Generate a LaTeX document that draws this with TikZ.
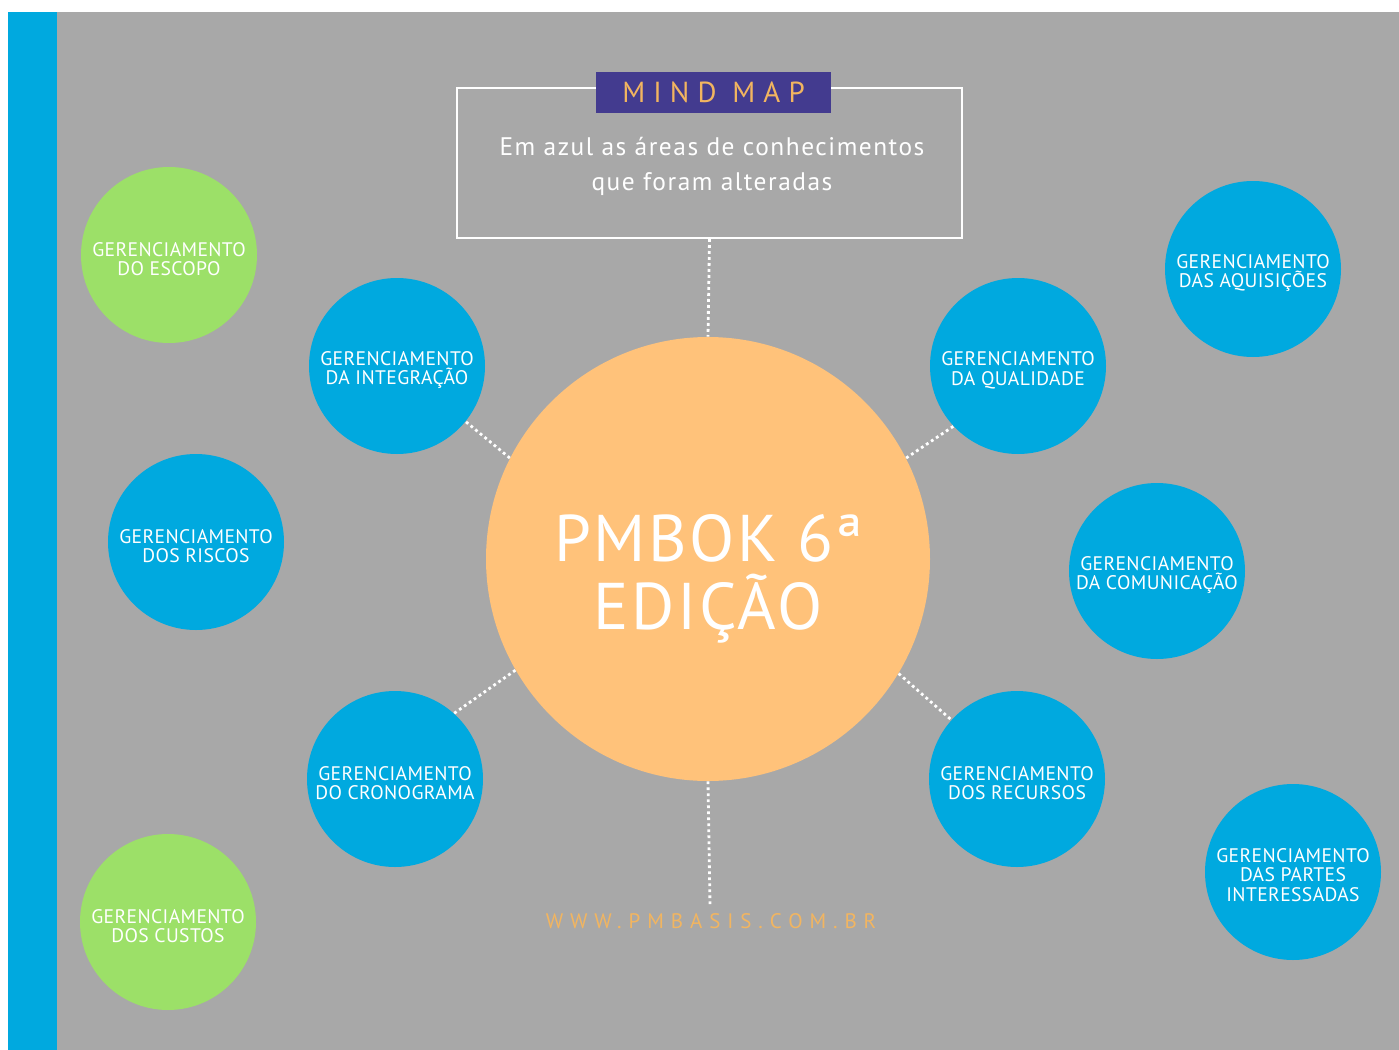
\documentclass[tikz,border=0pt]{standalone}
\usepackage{fontspec}
\setmainfont{PT Sans}
\definecolor{bggray}{HTML}{A8A8A8}
\definecolor{cblue}{HTML}{00A9DF}
\definecolor{cgreen}{HTML}{9CE068}
\definecolor{corange}{HTML}{FFC27A}
\definecolor{cindigo}{HTML}{433B8F}
\definecolor{ctxtorange}{HTML}{F2B560}
\newcommand\topstrut[1]{\rule{0pt}{#1}}
\begin{document}
\begin{tikzpicture}[x=0.5pt,y=-0.5pt,
  area/.style={circle, minimum size=88pt, inner sep=0pt, text=white, align=center,
    font=\fontsize{9.8}{9.8}\selectfont\addfontfeature{LetterSpace=2}},
  bluearea/.style={area, fill=cblue},
  greenarea/.style={area, fill=cgreen},
  dotline/.style={white, line width=1.4pt, dash pattern=on 1.4pt off 1.6pt}]
\useasboundingbox (0,0) rectangle (1399,1050);
\fill[white] (0,0) rectangle (1399,1050);
\fill[bggray] (57,12) rectangle (1399,1050);
\fill[cblue] (8,12) rectangle (57,1050);

% title box
\node[draw=white, line width=1pt, minimum width=252.5pt, minimum height=75pt, inner sep=0pt] (box) at (709.5,163) {};
\node[fill=cindigo, minimum width=117.5pt, minimum height=20.5pt, inner sep=0pt, text=ctxtorange,
  font=\fontsize{14.5}{14.5}\selectfont\addfontfeature{LetterSpace=28}] (mm) at (713.5,92.5) {MIND MAP};
\node[text=white, align=center, font=\fontsize{12.7}{17.5}\selectfont\addfontfeature{LetterSpace=6}] (sub) at (712,166)
  {Em azul as áreas de conhecimentos\\que foram alteradas};

% centre
\node[circle, fill=corange, minimum size=222pt, inner sep=0pt, text=white, align=center,
  font=\fontsize{33}{34}\selectfont\addfontfeature{LetterSpace=4}] (pmbok) at (708,559)
  {\topstrut{43pt}PMBOK 6ª\\EDIÇÃO};

% areas
\node[bluearea] (integ) at (397,366) {\topstrut{11pt}GERENCIAMENTO\\DA INTEGRAÇÃO};
\node[bluearea] (qual) at (1018,366) {\topstrut{11pt}GERENCIAMENTO\\DA QUALIDADE};
\node[bluearea] (crono) at (395,779) {\topstrut{11pt}GERENCIAMENTO\\DO CRONOGRAMA};
\node[bluearea] (recur) at (1017,779) {\topstrut{11pt}GERENCIAMENTO\\DOS RECURSOS};
\node[bluearea] (riscos) at (196,542) {\topstrut{11pt}GERENCIAMENTO\\DOS RISCOS};
\node[bluearea] (comun) at (1157,571) {\topstrut{11pt}GERENCIAMENTO\\DA COMUNICAÇÃO};
\node[bluearea] (aquis) at (1253,269) {\topstrut{11pt}GERENCIAMENTO\\DAS AQUISIÇÕES};
\node[bluearea] (partes) at (1293,872) {\topstrut{10pt}GERENCIAMENTO\\DAS PARTES\\INTERESSADAS};
\node[greenarea] (escopo) at (169,255) {\topstrut{11pt}GERENCIAMENTO\\DO ESCOPO};
\node[greenarea] (custos) at (168,922) {\topstrut{11pt}GERENCIAMENTO\\DOS CUSTOS};

% footer
\node[text=ctxtorange, font=\fontsize{10.5}{10.5}\selectfont\addfontfeature{LetterSpace=33}] (url) at (711,921) {WWW.PMBASIS.COM.BR};
\coordinate (foot) at (710,905);

% connectors
\draw[dotline] (box.south) -- (pmbok.north);
\draw[dotline] (pmbok.153) -- (integ.-39);
\draw[dotline] (pmbok.27) -- (qual.223);
\draw[dotline] (pmbok.210) -- (crono.48);
\draw[dotline] (pmbok.-31) -- (recur.138);
\draw[dotline] (pmbok.south) -- (foot);
\end{tikzpicture}
\end{document}
